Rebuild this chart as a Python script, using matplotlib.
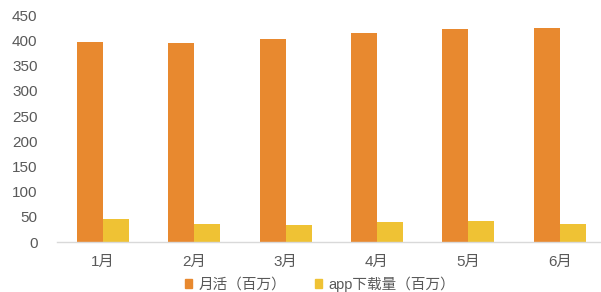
import numpy as np
import matplotlib.pyplot as plt
from matplotlib.patches import Patch

plt.rcParams['font.family'] = ['Liberation Sans', 'Noto Sans CJK SC', 'DejaVu Sans']

months = ['1月', '2月', '3月', '4月', '5月', '6月']
mau = [398, 396, 404, 415, 423, 426]
downloads = [46, 35, 33, 39, 41, 36]
yticks = [0, 50, 100, 150, 200, 250, 300, 350, 400, 450]

c_mau = '#E8892F'
c_dl = '#EFC234'

fig = plt.figure(figsize=(6.01, 2.92), dpi=100)
ax = fig.add_axes([57 / 601, 1 - 242 / 292, 1 - 57 / 601, (242 - 15.5) / 292])

x = np.arange(len(months))
w = 0.285
ax.bar(x - w / 2, mau, width=w, color=c_mau, label='月活（百万）')
ax.bar(x + w / 2, downloads, width=w, color=c_dl, label='app下载量（百万）')

ax.set_xlim(-0.5, 5.45)
ax.set_ylim(0, 450)
ax.set_yticks(yticks)
ax.set_xticks(x)
ax.set_xticklabels(months)

for s in ['top', 'right', 'left']:
    ax.spines[s].set_visible(False)
ax.spines['bottom'].set_color('#D9D9D9')
ax.spines['bottom'].set_linewidth(1)
ax.tick_params(axis='both', length=0, colors='#595959', labelsize=11)
ax.tick_params(axis='y', pad=14)
ax.tick_params(axis='x', pad=9)

handles = [Patch(color=c_mau, label='月活（百万）'),
           Patch(color=c_dl, label='app下载量（百万）')]
leg = fig.legend(handles=handles, loc='center', bbox_to_anchor=(320 / 601, 1 - 284 / 292),
                 ncol=2, frameon=False, fontsize=10.5, handlelength=0.5, handleheight=0.5,
                 handletextpad=0.4, columnspacing=2.0)
for t in leg.get_texts():
    t.set_color('#595959')

fig.savefig('out.png', dpi=100)
